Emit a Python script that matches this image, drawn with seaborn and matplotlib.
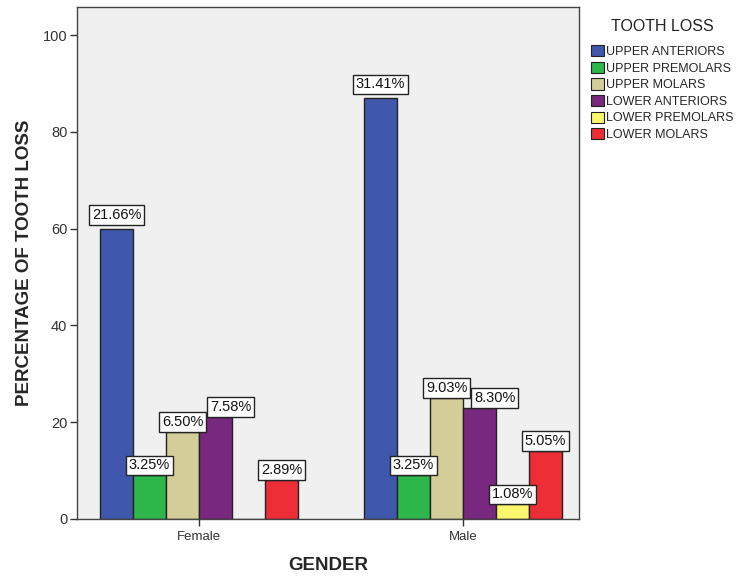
import matplotlib
matplotlib.use("Agg")
import matplotlib.pyplot as plt
import seaborn as sns
import pandas as pd
import numpy as np

genders = ["Female", "Male"]
tooth_groups = ["UPPER ANTERIORS", "UPPER PREMOLARS", "UPPER MOLARS",
                "LOWER ANTERIORS", "LOWER PREMOLARS", "LOWER MOLARS"]
female_counts = [60, 9, 18, 21, 0, 8]
male_counts = [87, 9, 25, 23, 3, 14]
female_labels = ["21.66%", "3.25%", "6.50%", "7.58%", "", "2.89%"]
male_labels = ["31.41%", "3.25%", "9.03%", "8.30%", "1.08%", "5.05%"]
colors = ["#3F58AB", "#2DB74A", "#D3CD99", "#78287F", "#FAF76E", "#EE2E37"]

rows = []
for g, vals, labs in [("Female", female_counts, female_labels), ("Male", male_counts, male_labels)]:
    for t, v, l in zip(tooth_groups, vals, labs):
        rows.append({"GENDER": g, "TOOTH LOSS": t, "count": v, "label": l})
df = pd.DataFrame(rows)

sns.set_style("white")
plt.rcParams['font.family'] = ['Arial', 'Liberation Sans', 'DejaVu Sans']

fig = plt.figure(figsize=(7.36, 5.76), dpi=100)
ax = fig.add_axes([77/736, 1 - 519/576, (579-77)/736, (519-7)/576])
ax.set_facecolor("#F0F0F0")

sns.barplot(data=df, x="GENDER", y="count", hue="TOOTH LOSS", order=genders,
            hue_order=tooth_groups, palette=colors, saturation=1, width=0.75, gap=0,
            edgecolor="#222222", linewidth=1.0, ax=ax, legend=True)

ax.set_ylim(0, 105.8)
ax.set_xlim(-0.462, 1.439)
ax.set_yticks([0, 20, 40, 60, 80, 100])
ax.tick_params(axis="y", direction="out", length=5, width=1, color="#333333",
               labelsize=10.5, labelcolor="#333333", left=True, pad=2)
ax.tick_params(axis="x", direction="out", length=5, width=1, color="#333333",
               labelsize=9.5, labelcolor="#333333", bottom=True)
ax.set_ylabel("PERCENTAGE OF TOOTH LOSS", fontsize=13.5, fontweight="bold", labelpad=7)
ax.set_xlabel("GENDER", fontsize=13.5, fontweight="bold", labelpad=10)
for s in ax.spines.values():
    s.set_color("#444444")
    s.set_linewidth(1.0)

# labels (boxes sit on bar tops; shift right if overlapping the previous box)
px2pt = 72 / fig.dpi
fig.canvas.draw()
renderer = fig.canvas.get_renderer()
for gi, g in enumerate(genders):
    prev_bb = None
    for hi, (cont, t) in enumerate(zip(ax.containers, tooth_groups)):
        bar = cont[gi]
        lab = df[(df["GENDER"] == g) & (df["TOOTH LOSS"] == t)]["label"].iloc[0]
        if not lab:
            continue
        x = bar.get_x() + bar.get_width() / 2
        y = bar.get_height()
        dy = 6.5 if hi == 0 else 3.0
        ann = ax.annotate(lab, (x, y), xytext=(0, dy * px2pt), textcoords="offset points",
                          ha="center", va="bottom", fontsize=10.5, color="#111111",
                          bbox=dict(boxstyle="square,pad=0.2", fc="white", ec="#222222", lw=1.0),
                          zorder=5)
        fig.canvas.draw()
        bb = ann.get_bbox_patch().get_window_extent(renderer)
        if prev_bb is not None and bb.overlaps(prev_bb):
            shift = prev_bb.x1 + 1 - bb.x0
            ann.xyann = (shift * px2pt, dy * px2pt)
            fig.canvas.draw()
            bb = ann.get_bbox_patch().get_window_extent(renderer)
        prev_bb = bb

handles, labels = ax.get_legend_handles_labels()
ax.legend_.remove()
leg = fig.legend(handles, labels, title="TOOTH LOSS", loc="upper left",
                 bbox_to_anchor=(586/736, 1 - 14/576), frameon=False,
                 fontsize=9, title_fontsize=11.5, handlelength=1.0, handleheight=1.0,
                 handletextpad=0.2, labelspacing=0.3, borderaxespad=0)
leg._legend_box.sep = 8
for h in leg.legend_handles:
    h.set_edgecolor("#222222")
    h.set_linewidth(0.8)
leg.get_title().set_color("#222222")

fig.savefig("out.png", dpi=100)
